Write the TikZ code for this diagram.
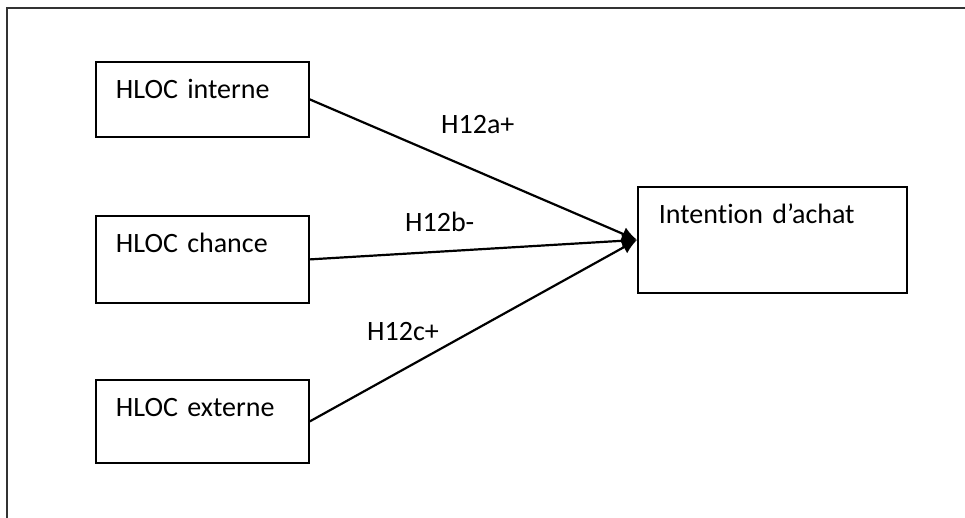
\documentclass[tikz,border=0pt]{standalone}
\usepackage{fontspec}
\setmainfont{Carlito}[Ligatures=NoCommon]
\usetikzlibrary{arrows.meta,positioning}
\tikzset{
    %Define standard arrow tip
    >={Latex[length=15pt,width=14pt]},
    %Define style for boxes
    factor/.style={
           rectangle,
           draw=black, line width=1.8pt,
           text width=173pt,
           inner xsep=20pt, inner ysep=0pt,
           text height=37pt,
           align=left,
           font=\fontsize{28}{34}\selectfont,
           anchor=north west},
    outcome/.style={
           factor,
           text width=227pt,
           inner xsep=21pt},
    hyp/.style={
           anchor=base west,
           inner sep=0pt,
           font=\fontsize{28}{34}\selectfont},
    % Define arrow style
    pil/.style={
           ->,
           line width=2.2pt}
}
\begin{document}
\begin{tikzpicture}[x=1pt,y=-1pt]
\useasboundingbox (0,0) rectangle (965,518);
% frame
\draw[line width=1.8pt, black!80] (965,8) -- (7,8) -- (7,518);
% boxes
\node[factor, text depth=38pt](interne) at (95,61) {HLOC interne};
\node[factor, text depth=50pt](chance) at (95,215) {HLOC chance};
\node[factor, text depth=46pt](externe) at (95,379) {HLOC externe};
\node[outcome, text depth=69pt](achat) at (637,186) {Intention d’achat};
% hypotheses
\node[hyp](h1) at (441,134) {H12a+};
\node[hyp](h2) at (405,232) {H12b-};
\node[hyp](h3) at (367,340) {H12c+};
\path[pil]
	(interne.east) edge (achat.west)
	(chance.east) edge (achat.west)
	(externe.east) edge (achat.west);
\end{tikzpicture}
\end{document}
